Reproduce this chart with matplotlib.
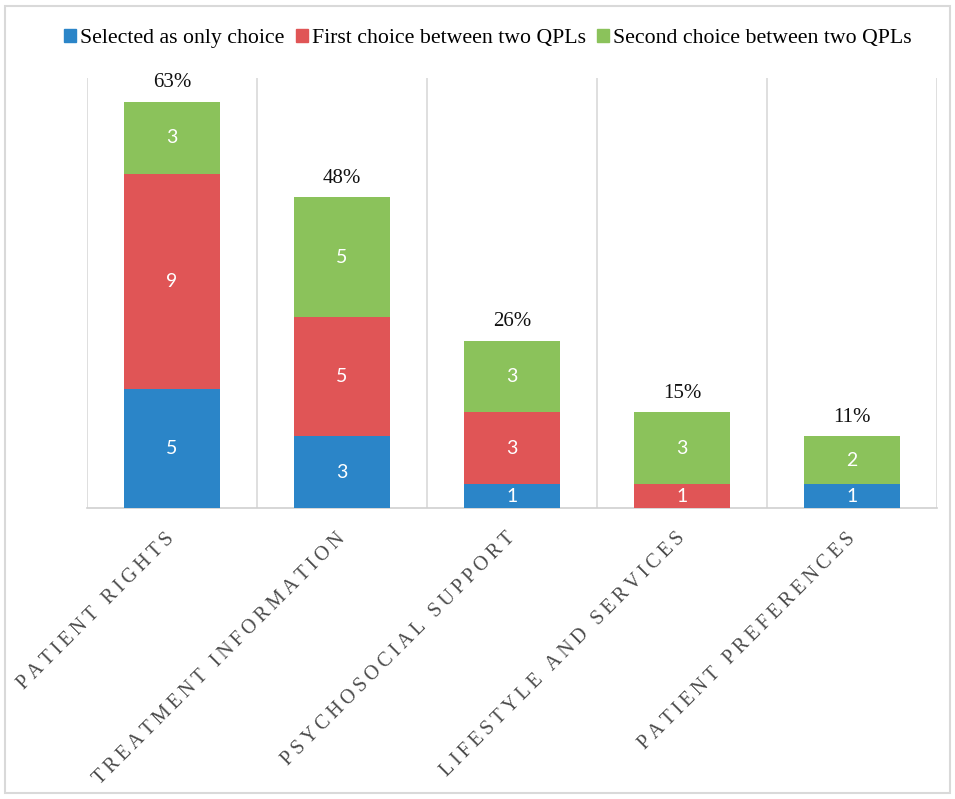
import numpy as np
import matplotlib.pyplot as plt
from matplotlib.patches import Patch, Rectangle

# Данные
categories = ['PATIENT RIGHTS', 'TREATMENT INFORMATION', 'PSYCHOSOCIAL SUPPORT',
              'LIFESTYLE AND SERVICES', 'PATIENT PREFERENCES']
only_choice = [5, 3, 1, 0, 1]
first_choice = [9, 5, 3, 1, 0]
second_choice = [3, 5, 3, 3, 2]
percents = ['63%', '48%', '26%', '15%', '11%']

series_names = ['Selected as only choice', 'First choice between two QPLs',
                'Second choice between two QPLs']
colors = ['#2B85C8', '#E05556', '#8BC25B']

serif = ['Liberation Serif', 'DejaVu Serif']

fig = plt.figure(figsize=(9.55, 7.99), dpi=100)
ax = fig.add_axes([0.0911, 0.3642, 0.8901, 0.5382])

x = np.arange(len(categories))
width = 0.565
bottom = np.zeros(len(categories))
for vals, col in zip([only_choice, first_choice, second_choice], colors):
    vals = np.array(vals)
    ax.bar(x, vals, width, bottom=bottom, color=col, zorder=3)
    for xi, b, v in zip(x, bottom, vals):
        if v > 0:
            ax.text(xi, b + v / 2, str(v), ha='center', va='center',
                    color='white', fontsize=14, family=['Lato', 'DejaVu Sans'], zorder=4)
    bottom = bottom + vals

# Проценты над столбцами
for xi, tot, p in zip(x, bottom, percents):
    ax.annotate(p, (xi, tot), xytext=(0, 7), textcoords='offset points',
                ha='center', va='bottom', fontsize=15, family=serif, color='#111111')

# Вертикальные разделители
for b in np.arange(-0.5, len(categories), 1.0):
    ax.axvline(b, color='#D9D9D9', lw=1.2, zorder=1)

ax.set_xlim(-0.5, len(categories) - 0.5)
ax.set_ylim(0, 18)
ax.set_yticks([])
for s in ['top', 'left', 'right']:
    ax.spines[s].set_visible(False)
ax.spines['bottom'].set_color('#D0D0D0')
ax.spines['bottom'].set_linewidth(1.2)

ax.set_xticks(x)
spaced = ['\u2009'.join(c) for c in categories]
ax.set_xticklabels(spaced, rotation=45, ha='right', va='center',
                   rotation_mode='anchor', fontsize=14.5, family=serif, color='#4a4a4a')
ax.tick_params(axis='x', length=0, pad=20)

handles = [Patch(color=c) for c in colors]
fig.legend(handles, series_names, loc='center', bbox_to_anchor=(0.511, 0.952), ncol=3,
           frameon=False, prop={'family': serif, 'size': 15.7},
           handlelength=0.55, handleheight=0.55, handletextpad=0.2, columnspacing=0.5)

# Рамка вокруг рисунка
fig.patches.append(Rectangle((5 / 955, 6 / 799), 945 / 955, 787 / 799,
                             transform=fig.transFigure, fill=False,
                             edgecolor='#D9D9D9', lw=1.5))

fig.savefig('out.png', dpi=100)
